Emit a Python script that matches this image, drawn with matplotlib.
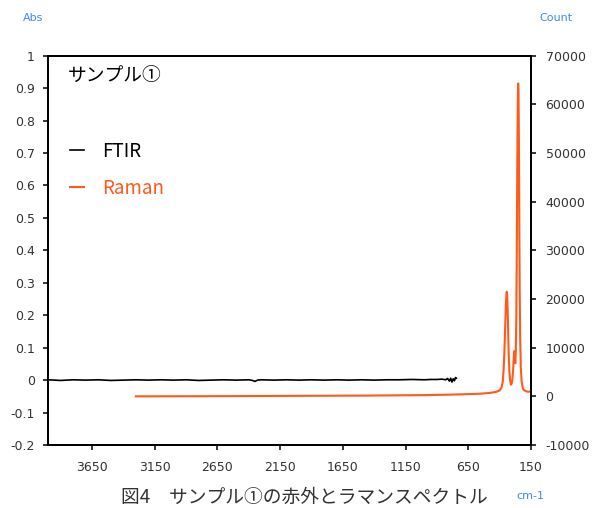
import matplotlib
matplotlib.use("Agg")
import matplotlib.pyplot as plt
from matplotlib.ticker import FormatStrFormatter

plt.rcParams['font.family'] = ['DejaVu Sans', 'Noto Sans CJK JP']
plt.rcParams['axes.unicode_minus'] = False

# FTIR spectrum (wavenumber cm-1, absorbance)
ftir_wn = [4000, 3900, 3800, 3700, 3600, 3500, 3400, 3300, 3200, 3100, 3000,
           2900, 2800, 2700, 2600, 2500, 2400, 2370, 2350, 2330, 2300, 2200,
           2100, 2000, 1900, 1800, 1700, 1600, 1500, 1400, 1300, 1200, 1100,
           1000, 950, 900, 860, 830, 815, 800, 790, 780, 770, 760, 752, 745]
ftir_abs = [0.001, -0.001, 0.001, 0.000, 0.001, -0.001, 0.000, 0.001, 0.000,
            0.001, 0.000, 0.001, -0.001, 0.000, 0.001, 0.000, 0.001, -0.001,
            -0.004, 0.000, 0.001, 0.000, 0.001, 0.000, 0.001, 0.000, 0.001,
            0.000, 0.001, 0.000, 0.001, 0.001, 0.002, 0.001, 0.002, 0.002,
            0.003, 0.001, 0.005, -0.003, 0.006, -0.006, 0.004, -0.002, 0.008,
            0.006]

# Raman spectrum (wavenumber cm-1, counts)
raman_wn = [3300, 3000, 2500, 2000, 1500, 1000, 800, 650, 550, 480, 430, 400,
            385, 375, 368, 362, 356, 350, 345, 342, 339, 334, 328, 322, 316,
            310, 304, 298, 292, 287, 283, 279, 275, 271, 267, 263, 259, 255,
            252, 249, 246, 243, 240, 236, 231, 225, 218, 210, 195, 175, 160,
            150]
raman_counts = [0, 20, 50, 100, 150, 250, 350, 450, 550, 700, 900, 1200, 1800,
                3000, 5500, 9000, 14000, 19000, 21300, 21500, 20500, 16000,
                9000, 5000, 3200, 2400, 2600, 3500, 5500, 8200, 9300, 8000,
                6800, 9000, 16000, 30000, 48000, 60000, 64300, 62000, 52000,
                36000, 22000, 12000, 6000, 3200, 2000, 1400, 1100, 950, 950,
                1000]

x_ticks = [3650, 3150, 2650, 2150, 1650, 1150, 650, 150]
abs_ticks = [-0.2, -0.1, 0, 0.1, 0.2, 0.3, 0.4, 0.5, 0.6, 0.7, 0.8, 0.9, 1]
count_ticks = [-10000, 0, 10000, 20000, 30000, 40000, 50000, 60000, 70000]

ftir_color = "black"
raman_color = "#ff5a1a"
note_color = "#3d8bf2"
text_color = "#333333"

fig = plt.figure(figsize=(5.93, 5.08), dpi=100)
ax = fig.add_axes([0.081, 0.124, 0.8144, 0.7664])
ax2 = ax.twinx()

l1, = ax.plot(ftir_wn, ftir_abs, color=ftir_color, lw=1.2, label="FTIR")
l2, = ax2.plot(raman_wn, raman_counts, color=raman_color, lw=1.5, label="Raman")

ax.set_xlim(4000, 150)
ax.set_ylim(-0.2, 1)
ax2.set_ylim(-10000, 70000)
ax.set_xticks(x_ticks)
ax.set_yticks(abs_ticks)
ax2.set_yticks(count_ticks)
ax.yaxis.set_major_formatter(FormatStrFormatter('%g'))

for a in (ax, ax2):
    for s in a.spines.values():
        s.set_linewidth(1.3)
        s.set_color("black")
ax.tick_params(axis='both', direction='out', length=3.5, width=1.1,
               labelsize=9, labelcolor=text_color)
ax.tick_params(axis='y', pad=6)
ax.tick_params(axis='x', pad=8)
ax2.tick_params(axis='y', direction='out', length=3.5, width=1.1,
                labelsize=9, labelcolor=text_color, pad=7)

ax.text(0.041, 0.947, "サンプル①", transform=ax.transAxes, fontsize=13.5,
        va='center', ha='left', family=['Noto Sans CJK JP'], color='black')

leg = ax.legend(handles=[l1, l2], loc='upper left', bbox_to_anchor=(0.01, 0.825),
                frameon=False, handlelength=0.75, handletextpad=1.0,
                labelspacing=0.85, labelcolor='linecolor',
                prop={'family': ['Noto Sans CJK JP'], 'size': 13.5})

fig.text(33 / 593, 1 - 18 / 508, "Abs", color=note_color, fontsize=8,
         ha='center', va='center')
fig.text(556 / 593, 1 - 18 / 508, "Count", color=note_color, fontsize=8,
         ha='center', va='center')
fig.text(530 / 593, 1 - 496 / 508, "cm-1", color=note_color, fontsize=8,
         ha='center', va='center')
fig.text(304 / 593, 1 - 497 / 508, "図4　サンプル①の赤外とラマンスペクトル",
         color=text_color, fontsize=13.5, ha='center', va='center',
         family=['Noto Sans CJK JP', 'DejaVu Sans'])

fig.savefig("out.png", dpi=100)
